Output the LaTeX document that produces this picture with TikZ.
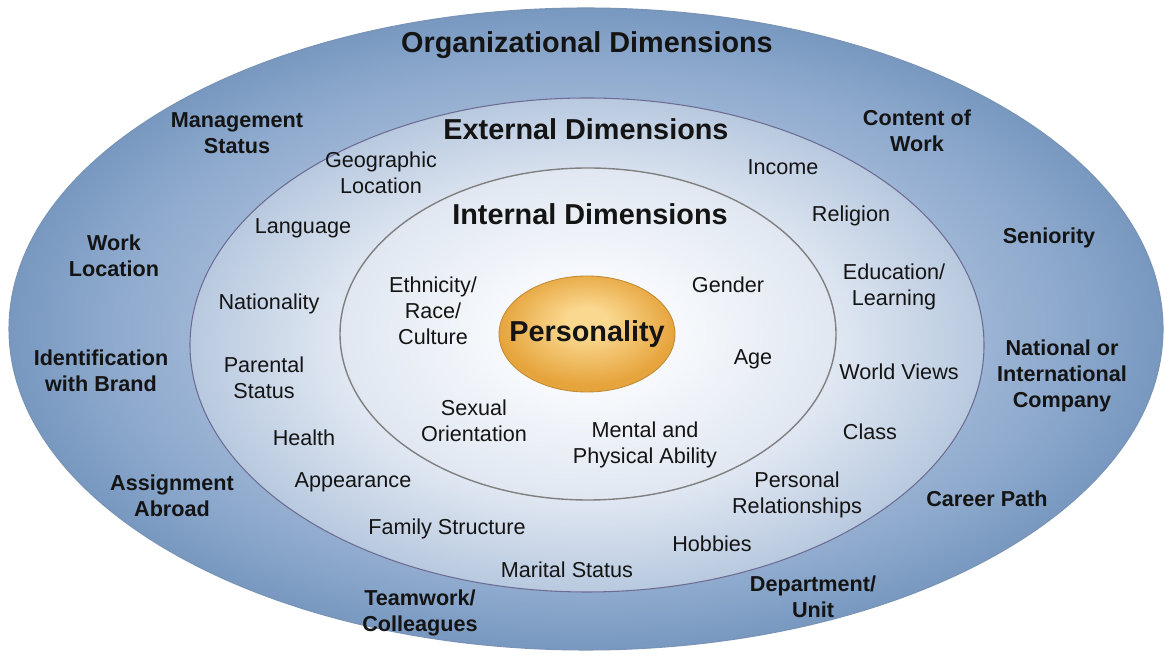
\documentclass[tikz,border=0pt]{standalone}
\usepackage{fontspec}
\setmainfont{Liberation Sans}
\definecolor{orgdark}{HTML}{7898C0}
\definecolor{orgmid}{HTML}{8CA8CC}
\definecolor{orglight}{HTML}{9DB5D5}
\definecolor{extdark}{HTML}{B8C9DF}
\definecolor{extlight}{HTML}{E2E9F3}
\definecolor{intdark}{HTML}{E0E7F1}
\definecolor{intlight}{HTML}{F8FAFD}
\definecolor{golddark}{HTML}{E6A43C}
\definecolor{goldlight}{HTML}{FAD890}
\pgfdeclareradialshading{orgshade}{\pgfpoint{0bp}{0bp}}{color(0bp)=(orglight);color(17bp)=(orglight);color(21bp)=(orgmid);color(25bp)=(orgdark);color(50bp)=(orgdark)}
\pgfdeclareradialshading{extshade}{\pgfpoint{0bp}{0bp}}{color(0bp)=(extlight);color(15bp)=(extlight);color(25bp)=(extdark);color(50bp)=(extdark)}
\pgfdeclareradialshading{intshade}{\pgfpoint{0bp}{0bp}}{color(0bp)=(intlight);color(8bp)=(intlight);color(25bp)=(intdark);color(50bp)=(intdark)}
\pgfdeclareradialshading{goldshade}{\pgfpoint{0bp}{6bp}}{color(0bp)=(goldlight);color(6bp)=(goldlight);color(25bp)=(golddark);color(50bp)=(golddark)}
\begin{document}
\begin{tikzpicture}[every node/.style={font=\fontsize{12.3}{14.8}\selectfont,align=center,text=black!92,inner sep=1pt},
  orglbl/.style={font=\fontsize{12.3}{14.8}\selectfont\bfseries},
  headlbl/.style={font=\fontsize{16.4}{19}\selectfont\bfseries}]
  \useasboundingbox (0,0) rectangle (23.3,13.14);
  \shade[shading=orgshade,draw=orgdark!85!gray,line width=0.6pt] (11.72,6.56) ellipse (11.54 and 6.42);
  \shade[shading=extshade,draw=gray!85!blue,line width=0.6pt] (11.74,6.24) ellipse (7.94 and 4.94);
  \shade[shading=intshade,draw=gray,line width=0.8pt] (11.76,6.46) ellipse (4.96 and 3.32);
  \shade[shading=goldshade,draw=golddark!85!black,line width=0.5pt] (11.74,6.46) ellipse (1.76 and 1.16);
  \node[headlbl] (pers) at (11.74,6.46) {Personality};
  \node[headlbl] (org) at (11.74,12.24) {Organizational Dimensions};
  \node[headlbl] (ext) at (11.72,10.56) {External Dimensions};
  \node[headlbl] (int) at (11.80,8.86) {Internal Dimensions};
  \node[orglbl] (mgmt) at (4.74,10.48) {Management\\Status};
  \node[orglbl] (content) at (18.34,10.52) {Content of\\Work};
  \node[orglbl] (work) at (2.28,8.02) {Work\\Location};
  \node[orglbl] (seniority) at (20.98,8.38) {Seniority};
  \node[orglbl] (brand) at (2.02,5.72) {Identification\\with Brand};
  \node[orglbl] (intl) at (21.24,5.62) {National or\\International\\Company};
  \node[orglbl] (abroad) at (3.44,3.22) {Assignment\\Abroad};
  \node[orglbl] (career) at (19.74,3.16) {Career Path};
  \node[orglbl] (team) at (8.40,0.88) {Teamwork/\\Colleagues};
  \node[orglbl] (dept) at (16.26,1.20) {Department/\\Unit};
  \node (geo) at (7.62,9.68) {Geographic\\Location};
  \node (income) at (15.66,9.80) {Income};
  \node (lang) at (6.06,8.58) {Language};
  \node (relig) at (17.02,8.82) {Religion};
  \node (nation) at (5.38,7.06) {Nationality};
  \node (educ) at (17.88,7.40) {Education/\\Learning};
  \node (parent) at (5.28,5.58) {Parental\\Status};
  \node (views) at (17.98,5.70) {World Views};
  \node (health) at (6.08,4.38) {Health};
  \node (class) at (17.40,4.50) {Class};
  \node (appear) at (7.06,3.50) {Appearance};
  \node (relat) at (15.94,3.24) {Personal\\Relationships};
  \node (family) at (8.94,2.56) {Family Structure};
  \node (hobbies) at (14.24,2.26) {Hobbies};
  \node (marital) at (11.34,1.74) {Marital Status};
  \node (ethn) at (8.66,6.92) {Ethnicity/\\Race/\\Culture};
  \node (gender) at (14.56,7.44) {Gender};
  \node (age) at (15.06,5.96) {Age};
  \node (sexual) at (9.48,4.72) {Sexual\\Orientation};
  \node (ability) at (12.90,4.24) {Mental and\\Physical Ability};
\end{tikzpicture}
\end{document}
